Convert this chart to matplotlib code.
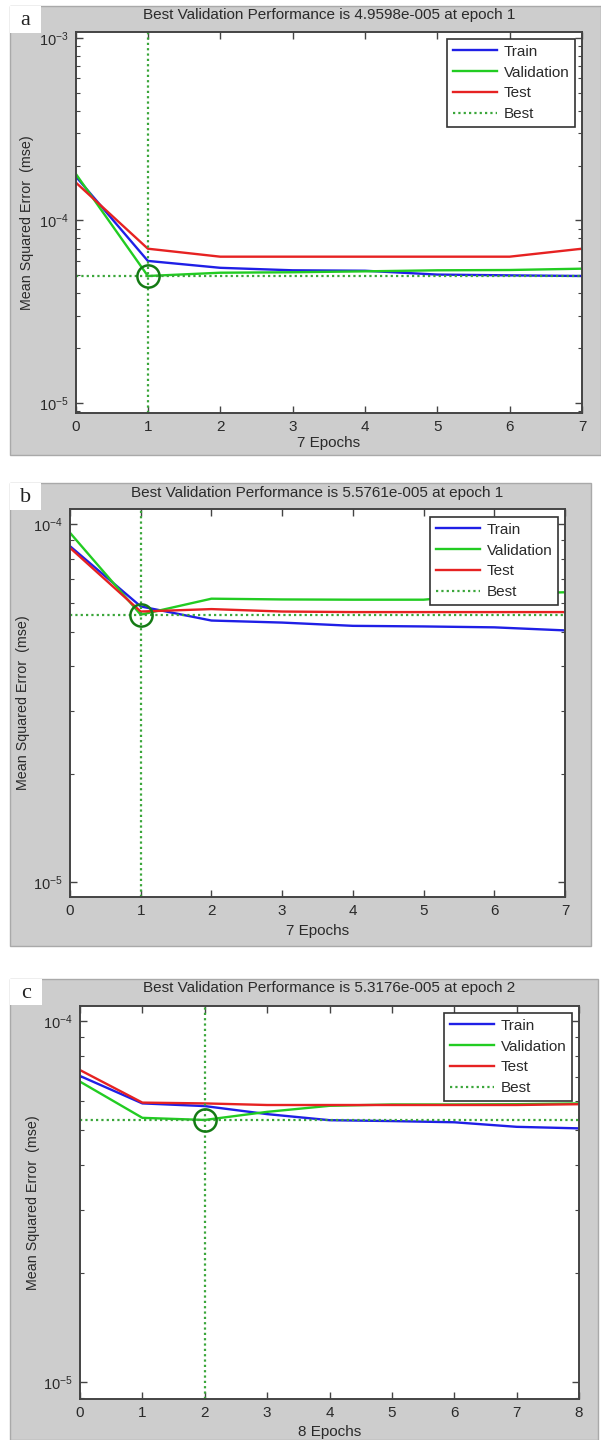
import matplotlib

matplotlib.use("Agg")
import matplotlib.pyplot as plt
from matplotlib.patches import Rectangle
from matplotlib.ticker import FixedLocator, LogFormatterMathtext, NullFormatter

W, H = 601, 1440

# panel a
epochs_a = [0, 1, 2, 3, 4, 5, 6, 7]
train_a = [1.75e-4, 6.0e-5, 5.5e-5, 5.33e-5, 5.3e-5, 5.05e-5, 5.0e-5, 4.96e-5]
val_a = [1.81e-4, 4.9598e-5, 5.17e-5, 5.2e-5, 5.26e-5, 5.33e-5, 5.35e-5, 5.44e-5]
test_a = [1.62e-4, 7.0e-5, 6.33e-5, 6.33e-5, 6.33e-5, 6.33e-5, 6.33e-5, 7.0e-5]
best_a = (1, 4.9598e-5)
title_a = "Best Validation Performance is 4.9598e-005 at epoch 1"

# panel b
epochs_b = [0, 1, 2, 3, 4, 5, 6, 7]
train_b = [8.66e-5, 5.88e-5, 5.37e-5, 5.3e-5, 5.19e-5, 5.17e-5, 5.14e-5, 5.04e-5]
val_b = [9.44e-5, 5.5761e-5, 6.18e-5, 6.15e-5, 6.14e-5, 6.14e-5, 6.38e-5, 6.44e-5]
test_b = [8.57e-5, 5.69e-5, 5.78e-5, 5.69e-5, 5.67e-5, 5.67e-5, 5.67e-5, 5.67e-5]
best_b = (1, 5.5761e-5)
title_b = "Best Validation Performance is 5.5761e-005 at epoch 1"

# panel c
epochs_c = [0, 1, 2, 3, 4, 5, 6, 7, 8]
train_c = [7.04e-5, 5.91e-5, 5.81e-5, 5.52e-5, 5.31e-5, 5.28e-5, 5.24e-5, 5.09e-5, 5.04e-5]
val_c = [6.79e-5, 5.39e-5, 5.3176e-5, 5.6e-5, 5.82e-5, 5.87e-5, 5.87e-5, 5.88e-5, 5.91e-5]
test_c = [7.31e-5, 5.94e-5, 5.91e-5, 5.85e-5, 5.85e-5, 5.85e-5, 5.85e-5, 5.85e-5, 5.88e-5]
best_c = (2, 5.3176e-5)
title_c = "Best Validation Performance is 5.3176e-005 at epoch 2"

plt.rcParams["font.family"] = ["Liberation Sans", "DejaVu Sans"]
plt.rcParams["mathtext.default"] = "regular"

TXT = "#2a2a2a"
GRAY = "#cdcdcd"


def fx(px):
    return px / W


def fy(py):
    return 1 - py / H


def draw_panel(fig, layout, label, title, epochs, train, val, test, best, ylim):
    gx0, gy0, gx1, gy1 = layout["gray"]
    fig.add_artist(Rectangle((fx(gx0), fy(gy1)), (gx1 - gx0) / W, (gy1 - gy0) / H,
                             transform=fig.transFigure, facecolor=GRAY,
                             edgecolor="#a9a9a9", lw=1, zorder=0))
    lx0, ly0, lx1, ly1 = layout["label"]
    fig.add_artist(Rectangle((fx(lx0), fy(ly1)), (lx1 - lx0) / W, (ly1 - ly0) / H,
                             transform=fig.transFigure, facecolor="white",
                             edgecolor="none", zorder=1))
    fig.text(fx((lx0 + lx1) / 2), fy((ly0 + ly1) / 2 + 1), label,
             family=["Liberation Serif", "DejaVu Serif"], fontsize=16,
             ha="center", va="center", color="#222222")

    l, t, r, b = layout["axes"]
    ax = fig.add_axes([fx(l), fy(b), (r - l) / W, (b - t) / H])
    ax.set_facecolor("white")

    ax.plot(epochs, train, color="#1f1fe6", lw=1.7, label="Train")
    ax.plot(epochs, val, color="#22cc22", lw=1.7, label="Validation")
    ax.plot(epochs, test, color="#e62222", lw=1.7, label="Test")
    best_style = dict(color="#3aa63a", lw=1.6, ls=(0, (1, 1.4)))
    ax.axhline(best[1], label="Best", **best_style)
    ax.axvline(best[0], **best_style)
    ax.plot(best[0], best[1], "o", ms=16, mfc="none", mec="#147a14", mew=1.8)

    ax.set_yscale("log")
    ax.set_ylim(*ylim)
    ax.set_xlim(epochs[0], epochs[-1])
    ax.set_xticks(epochs)
    ax.yaxis.set_major_locator(FixedLocator([1e-5, 1e-4, 1e-3]))
    ax.yaxis.set_major_formatter(LogFormatterMathtext())
    minors = [m * 10.0 ** e for e in (-6, -5, -4, -3) for m in range(2, 10)]
    ax.yaxis.set_minor_locator(FixedLocator(minors))
    ax.yaxis.set_minor_formatter(NullFormatter())

    ax.tick_params(which="both", direction="in", top=True, right=True,
                   colors="#444444", labelcolor=TXT, pad=5)
    ax.tick_params(axis="x", labelsize=11)
    ax.tick_params(axis="y", labelsize=10.5)
    ax.tick_params(which="major", length=5, width=1)
    ax.tick_params(which="minor", length=3, width=0.8)
    for s in ax.spines.values():
        s.set_color("#444444")
        s.set_linewidth(1.4)

    fig.text(fx((l + r) / 2), fy(layout["title_y"]), title, fontsize=11,
             ha="center", va="center", color=TXT)
    fig.text(fx((l + r) / 2), fy(layout["xlabel_y"]), f"{len(epochs) - 1} Epochs",
             fontsize=11, ha="center", va="center", color=TXT)
    fig.text(fx(layout["ylabel_x"]), fy((t + b) / 2), "Mean Squared Error  (mse)",
             fontsize=10.3, rotation=90, ha="center", va="center", color=TXT)

    gl0, gt0, gr0, gb0 = layout["legend"]
    leg = ax.legend(loc="upper right",
                    bbox_to_anchor=((gr0 - l) / (r - l), (b - gt0) / (b - t)),
                    borderaxespad=0, fancybox=False, framealpha=1, edgecolor="#333333",
                    fontsize=11, handlelength=2.9, handletextpad=0.4,
                    labelspacing=0.44, borderpad=0.38, labelcolor=TXT)
    leg.get_frame().set_linewidth(1.2)
    return ax


fig = plt.figure(figsize=(W / 100, H / 100), dpi=100)

layout_a = dict(gray=(10, 6, 601, 455), label=(10, 6, 41, 33), axes=(75.5, 32, 582, 413),
                title_y=15, xlabel_y=443, ylabel_x=27, legend=(440, 39, 575, 126))
layout_b = dict(gray=(10, 483, 591, 946), label=(10, 483, 41, 510), axes=(70, 509, 565, 897),
                title_y=493, xlabel_y=931, ylabel_x=23, legend=(427, 517, 558, 608))
layout_c = dict(gray=(10, 979, 598, 1440), label=(10, 979, 42, 1005), axes=(80, 1006, 579, 1399),
                title_y=988, xlabel_y=1432, ylabel_x=33, legend=(440, 1013, 572, 1104))

draw_panel(fig, layout_a, "a", title_a, epochs_a, train_a, val_a, test_a, best_a, (8.8e-6, 1.079e-3))
draw_panel(fig, layout_b, "b", title_b, epochs_b, train_b, val_b, test_b, best_b, (9.08e-6, 1.10e-4))
draw_panel(fig, layout_c, "c", title_c, epochs_c, train_c, val_c, test_c, best_c, (8.97e-6, 1.10e-4))

fig.savefig("out.png", dpi=100, facecolor="white")
